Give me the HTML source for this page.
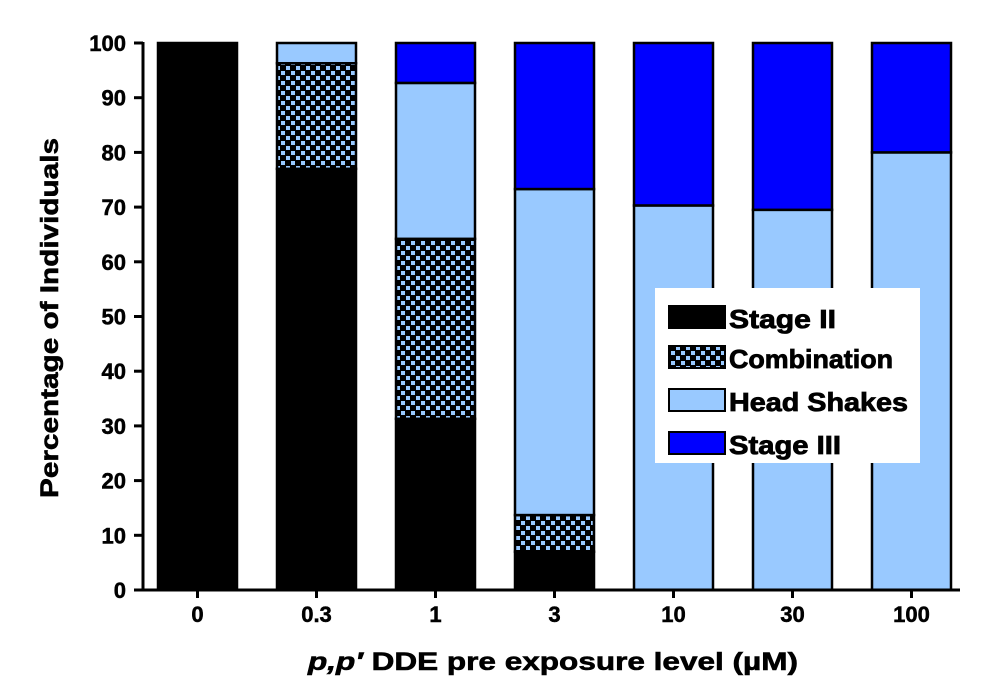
<!DOCTYPE html>
<html><head><meta charset="utf-8"><style>
body{margin:0;background:#fff;}
svg{display:block;font-family:"Liberation Sans",Arial,sans-serif;}
</style></head><body>
<svg id="chart" width="1000" height="697" viewBox="0 0 1000 697">
<defs>
<pattern id="checker" width="10" height="10" patternUnits="userSpaceOnUse">
<rect width="10" height="10" fill="#000"/>
<rect x="1" y="1" width="4" height="4" fill="#99c9ff"/>
<rect x="6" y="6" width="4" height="4" fill="#99c9ff"/>
</pattern>
</defs>
<g id="bars"></g>
<g id="axes"></g>
<text x="58" y="318" transform="rotate(-90 58 318)" text-anchor="middle" font-size="25" font-weight="bold" stroke="#000" stroke-width="0.6" textLength="360" lengthAdjust="spacingAndGlyphs">Percentage of Individuals</text>
<text x="553" y="670" text-anchor="middle" font-size="25" font-weight="bold" stroke="#000" stroke-width="0.6" textLength="490" lengthAdjust="spacingAndGlyphs"><tspan font-style="italic">p,p′</tspan> DDE pre exposure level (µM)</text>
<g>
<rect x="655" y="288" width="265" height="175" fill="#fff"/>
<rect x="669" y="306" width="56" height="22" fill="#000" stroke="#000" stroke-width="2"/>
<text x="729" y="328" font-size="26" font-weight="bold" stroke="#000" stroke-width="0.8" textLength="107" lengthAdjust="spacingAndGlyphs">Stage II</text>
<rect x="669" y="346" width="56" height="22" fill="url(#checker)" stroke="#000" stroke-width="2"/>
<text x="729" y="368" font-size="26" font-weight="bold" stroke="#000" stroke-width="0.8" textLength="164" lengthAdjust="spacingAndGlyphs">Combination</text>
<rect x="669" y="389" width="56" height="22" fill="#99c9ff" stroke="#000" stroke-width="2"/>
<text x="729" y="411" font-size="26" font-weight="bold" stroke="#000" stroke-width="0.8" textLength="179" lengthAdjust="spacingAndGlyphs">Head Shakes</text>
<rect x="669" y="432" width="56" height="22" fill="#0000ff" stroke="#000" stroke-width="2"/>
<text x="729" y="454" font-size="26" font-weight="bold" stroke="#000" stroke-width="0.8" textLength="112" lengthAdjust="spacingAndGlyphs">Stage III</text>
</g>
</svg>
<script>
const categories=["0","0.3","1","3","10","30","100"];
const stageII=[100,77,31.3,7,0,0,0];
const combination=[0,19.3,32.9,6.7,0,0,0];
const headShakes=[0,3.7,28.5,59.6,70.3,69.5,80];
const stageIII=[0,0,7.3,26.7,29.7,30.5,20];
const yTicks=[0,10,20,30,40,50,60,70,80,90,100];
const NS="http://www.w3.org/2000/svg";
const y0=590,y100=43;
function yScale(v){return y0-(y0-y100)*v/100;}
function xScale(i){return 158+119*i;}
const bw=79;
const bars=document.getElementById('bars'),axes=document.getElementById('axes');
function mk(tag,attrs,parent){const e=document.createElementNS(NS,tag);for(const k in attrs)e.setAttribute(k,attrs[k]);parent.appendChild(e);return e;}
const series=[[stageII,"#000","stage-ii"],[combination,"url(#checker)","combination"],[headShakes,"#99c9ff","head-shakes"],[stageIII,"#0000ff","stage-iii"]];
categories.forEach((c,i)=>{
  let cum=0;
  series.forEach(([arr,fill,nm])=>{
    const v=arr[i];if(v<=0)return;
    const r=mk('rect',{x:xScale(i),y:yScale(cum+v),width:bw,height:yScale(cum)-yScale(cum+v),fill:fill,stroke:'#000','stroke-width':2.5},bars);
    
    
    cum+=v;
  });
  const t=mk('text',{x:xScale(i)+bw/2,y:622,'text-anchor':'middle','font-size':22,'font-weight':'bold',stroke:'#000','stroke-width':0.5},axes);
  t.textContent=c;
  
  
  mk('line',{x1:xScale(i)+bw/2,x2:xScale(i)+bw/2,y1:590,y2:598,stroke:'#000','stroke-width':3},axes);
});
const ya=mk('line',{x1:143,x2:143,y1:42,y2:591,stroke:'#000','stroke-width':3},axes);


const xa=mk('line',{x1:142,x2:960,y1:590,y2:590,stroke:'#000','stroke-width':3},axes);


yTicks.forEach(v=>{
  mk('line',{x1:134,x2:143,y1:yScale(v),y2:yScale(v),stroke:'#000','stroke-width':3},axes);
  const t=mk('text',{x:126,y:yScale(v)+8,'text-anchor':'end','font-size':22,'font-weight':'bold',stroke:'#000','stroke-width':0.5},axes);
  t.textContent=v;
  
  
});
</script>
</body></html>
